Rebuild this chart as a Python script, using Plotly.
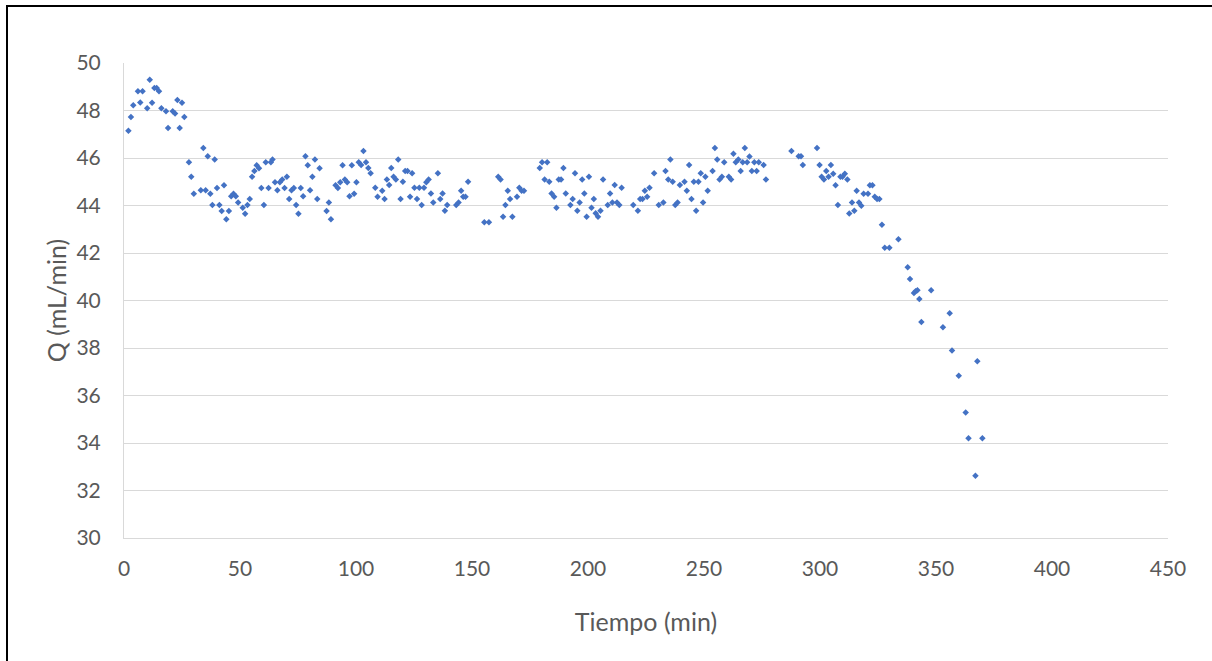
import plotly.graph_objects as go

tiempo = [1.9, 3.0, 4.0, 6.0, 7.0, 8.0, 10.0, 11.1, 12.1, 13.1, 14.1, 15.1, 16.1, 18.1, 19.0,
          21.0, 22.0, 23.0, 24.0, 25.0, 26.0, 28.0, 29.0, 30.1, 33.1, 34.2, 35.2, 36.1, 37.2,
          38.1, 39.1, 40.1, 41.1, 42.1, 43.1, 44.1, 45.2, 46.2, 47.2, 48.2, 49.2, 51.2, 52.2,
          53.2, 54.2, 55.2, 56.2, 57.2, 58.2, 59.2, 60.3, 61.1, 62.3, 63.3, 64.0, 65.1, 66.1,
          67.2, 68.2, 69.2, 70.2, 71.2, 72.2, 73.2, 74.2, 75.2, 76.2, 77.2, 78.2, 79.2, 80.2,
          81.2, 82.3, 83.3, 84.3, 87.3, 88.3, 89.2, 91.2, 92.2, 93.2, 94.2, 95.2, 96.2, 97.2,
          98.2, 99.2, 100.2, 101.2, 102.2, 103.2, 104.3, 105.3, 106.3, 108.3, 109.3, 111.3,
          112.3, 113.3, 114.3, 115.2, 116.2, 117.2, 118.2, 119.2, 120.2, 121.2, 122.2, 123.3,
          124.2, 125.2, 126.3, 127.3, 128.3, 129.3, 130.3, 131.3, 132.3, 133.3, 135.3, 136.3,
          137.3, 138.3, 139.3, 143.2, 144.2, 145.3, 146.2, 147.2, 148.3, 155.3, 157.3, 161.3,
          162.3, 163.4, 164.4, 165.4, 166.4, 167.4, 169.4, 170.4, 171.4, 172.4, 179.2, 180.2,
          181.3, 182.4, 183.3, 184.3, 185.4, 186.4, 187.4, 188.4, 189.4, 190.4, 192.4, 193.4,
          194.4, 195.4, 196.4, 197.5, 198.4, 199.4, 200.4, 201.5, 202.5, 203.3, 204.3, 205.4,
          206.5, 208.5, 209.5, 210.5, 211.5, 212.5, 213.5, 214.5, 219.5, 221.5, 222.5, 223.5,
          224.5, 225.5, 226.5, 228.5, 230.5, 232.5, 233.4, 234.6, 235.5, 236.5, 237.6, 238.6,
          239.6, 241.6, 242.6, 243.6, 244.6, 245.6, 246.6, 247.6, 248.6, 249.6, 250.6, 251.6,
          253.7, 254.7, 255.7, 256.7, 257.7, 258.7, 260.7, 261.7, 262.7, 263.7, 264.8, 265.8,
          266.7, 267.6, 268.6, 269.6, 270.6, 271.7, 272.7, 273.6, 275.7, 276.7, 287.7, 290.8,
          291.8, 292.6, 298.7, 299.8, 300.7, 301.7, 302.7, 303.7, 304.7, 305.7, 306.7, 307.7,
          308.8, 309.7, 310.7, 311.8, 312.6, 313.8, 314.8, 315.8, 316.8, 317.8, 318.8, 320.7,
          321.5, 322.6, 323.6, 324.6, 325.6, 326.7, 327.9, 329.9, 333.8, 337.8, 338.8, 340.5,
          341.2, 342.0, 342.8, 343.7, 347.9, 353.0, 355.9, 356.9, 359.8, 362.8, 364.0, 367.0,
          367.8, 370.0]

caudal = [47.15, 47.73, 48.22, 48.81, 48.34, 48.81, 48.09, 49.30, 48.33, 48.95, 48.95, 48.81,
          48.09, 47.97, 47.26, 47.97, 47.87, 48.44, 47.26, 48.33, 47.73, 45.82, 45.21, 44.50,
          44.64, 46.42, 44.64, 46.07, 44.50, 44.02, 45.94, 44.74, 44.02, 43.77, 44.85, 43.42,
          43.77, 44.39, 44.50, 44.39, 44.13, 43.91, 43.65, 44.02, 44.27, 45.21, 45.45, 45.69,
          45.57, 44.74, 44.02, 45.82, 44.74, 45.82, 45.94, 44.98, 44.64, 44.98, 45.10, 44.74,
          45.21, 44.27, 44.64, 44.74, 44.02, 43.65, 44.74, 44.39, 46.07, 45.69, 44.64, 45.21,
          45.94, 44.27, 45.57, 43.77, 44.13, 43.42, 44.85, 44.74, 44.98, 45.69, 45.10, 44.98,
          44.39, 45.69, 44.50, 44.98, 45.82, 45.71, 46.29, 45.82, 45.58, 45.36, 44.75, 44.37,
          44.62, 44.27, 45.10, 44.86, 45.58, 45.21, 45.10, 45.94, 44.27, 45.00, 45.45, 45.45,
          44.37, 45.36, 44.75, 44.27, 44.75, 44.02, 44.75, 44.98, 45.10, 44.51, 44.13, 45.36,
          44.27, 44.51, 43.78, 44.02, 44.02, 44.13, 44.62, 44.37, 44.37, 45.00, 43.29, 43.29,
          45.21, 45.10, 43.53, 44.02, 44.62, 44.27, 43.53, 44.37, 44.75, 44.62, 44.62, 45.58,
          45.82, 45.10, 45.82, 45.00, 44.51, 44.37, 43.91, 45.10, 45.10, 45.58, 44.51, 44.02,
          44.27, 45.36, 43.78, 44.13, 45.10, 44.51, 43.53, 45.21, 43.91, 44.27, 43.67, 43.53,
          43.78, 45.10, 44.02, 44.51, 44.13, 44.86, 44.13, 44.02, 44.75, 44.02, 43.78, 44.27,
          44.27, 44.62, 44.37, 44.75, 45.36, 44.02, 44.13, 45.45, 45.10, 45.94, 45.00, 44.02,
          44.13, 44.86, 45.00, 44.62, 45.71, 44.27, 45.00, 43.78, 45.00, 45.36, 44.13, 45.21,
          44.62, 45.45, 46.42, 45.94, 45.10, 45.21, 45.82, 45.21, 45.10, 46.18, 45.82, 45.94,
          45.45, 45.82, 46.42, 45.82, 46.06, 45.45, 45.82, 45.45, 45.82, 45.71, 45.10, 46.29,
          46.07, 46.07, 45.71, 46.42, 45.71, 45.21, 45.10, 45.45, 45.21, 45.71, 45.34, 44.85,
          44.02, 45.21, 45.21, 45.34, 45.10, 43.66, 44.13, 43.78, 44.62, 44.13, 43.99, 44.50,
          44.50, 44.85, 44.85, 44.37, 44.27, 44.27, 43.19, 42.22, 42.22, 42.58, 41.40, 40.91,
          40.32, 40.39, 40.43, 40.06, 39.09, 40.43, 38.87, 39.46, 37.90, 36.83, 35.28, 34.20,
          32.62, 37.44, 34.20]

x_ticks = [0, 50, 100, 150, 200, 250, 300, 350, 400, 450]
y_ticks = [30, 32, 34, 36, 38, 40, 42, 44, 46, 48, 50]

FONT = "Lato, 'Open Sans', sans-serif"
TICK_COLOR = "#595959"
GRID = "#d9d9d9"

fig = go.Figure()
fig.add_trace(go.Scatter(
    x=tiempo, y=caudal, mode="markers",
    marker=dict(symbol="diamond", size=5, color="#4472C4", line=dict(width=0)),
    showlegend=False, hoverinfo="x+y",
))

fig.update_layout(
    width=1212, height=661,
    margin=dict(l=124, r=44, t=63, b=123),
    paper_bgcolor="white", plot_bgcolor="white",
    font=dict(family=FONT, color=TICK_COLOR, size=21),
    xaxis=dict(
        range=[0, 450], tickvals=x_ticks, ticktext=[str(v) for v in x_ticks],
        showgrid=False, zeroline=False, showline=True, linecolor=GRID, linewidth=1,
        ticks="", ticklabelstandoff=12,
        tickfont=dict(family=FONT, size=21, color=TICK_COLOR),
        title=dict(text="Tiempo (min)", font=dict(family=FONT, size=25, color=TICK_COLOR),
                   standoff=34),
    ),
    yaxis=dict(
        range=[30, 50], tickvals=y_ticks, ticktext=[str(v) for v in y_ticks],
        showgrid=True, gridcolor=GRID, gridwidth=1, zeroline=False,
        showline=True, linecolor=GRID, linewidth=1,
        ticks="", ticklabelstandoff=18,
        tickfont=dict(family=FONT, size=21, color=TICK_COLOR),
        title=dict(text="Q (mL/min)", font=dict(family=FONT, size=25, color=TICK_COLOR),
                   standoff=2),
    ),
    shapes=[dict(type="rect", xref="paper", yref="paper",
                 x0=-117 / 1044, x1=1.3, y0=-0.6, y1=1 + 57 / 475,
                 line=dict(color="black", width=2), fillcolor="rgba(0,0,0,0)", layer="below")],
)

fig.write_html("out.html",
               config={"displayModeBar": False},
               post_script="document.body.style.margin='0';document.body.style.overflow='hidden';")
